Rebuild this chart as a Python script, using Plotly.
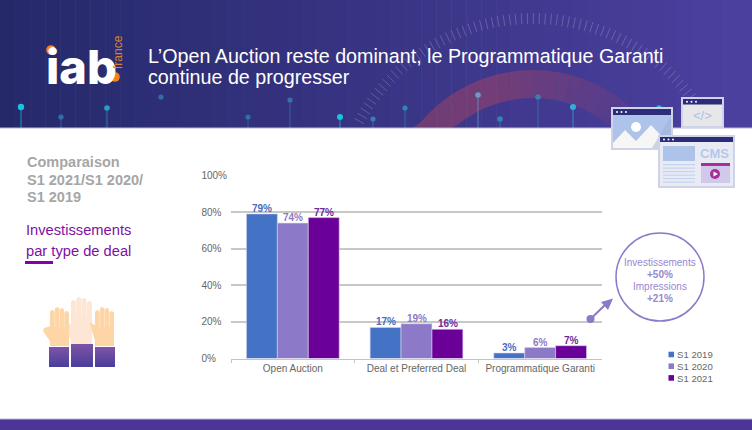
import math
import plotly.graph_objects as go

# chart data
categories = ["Open Auction", "Deal et Preferred Deal", "Programmatique Garanti"]
series_names = ["S1 2019", "S1 2020", "S1 2021"]
s1_2019 = [79, 17, 3]
s1_2020 = [74, 19, 6]
s1_2021 = [77, 16, 7]
y_ticks = [0, 20, 40, 60, 80, 100]
y_labels = ["0%\u00a0\u00a0\u00a0\u00a0", "20%\u00a0\u00a0", "40%\u00a0\u00a0", "60%\u00a0\u00a0", "80%\u00a0\u00a0", "100%"]

bar_colors = ["#4472c4", "#8c7ac8", "#6a0098"]
label_colors = ["#4a6cbe", "#8c7ac8", "#6e2a9c"]
FONT = "Liberation Sans"
W, H = 752, 430

shapes = []
notes = []


# everything decorative is placed in page pixels through the hidden x2/y2 axes
def shape(**kw):
    kw.setdefault("xref", "x2")
    kw.setdefault("yref", "y2")
    shapes.append(kw)


def rect(x0, y0, x1, y1, color, **kw):
    shape(type="rect", x0=x0, y0=y0, x1=x1, y1=y1, fillcolor=color, line_width=0, **kw)


def dot(x, y, r, color, **kw):
    shape(type="circle", x0=x - r, y0=y - r, x1=x + r, y1=y + r, fillcolor=color, line_width=0, **kw)


def line(x0, y0, x1, y1, color, width=1, **kw):
    shape(type="line", x0=x0, y0=y0, x1=x1, y1=y1, line=dict(color=color, width=width), **kw)


def poly(path, color, **kw):
    shape(type="path", path=path, fillcolor=color, line_width=0, **kw)


def text(x, y, s, size, color, bold=False, anchor="left", angle=0, family=FONT, weight=None):
    font = dict(family=family, size=size, color=color)
    if weight:
        font["weight"] = weight
    notes.append(dict(xref="x2", yref="y2", x=x, y=y, text="<b>%s</b>" % s if bold else s,
                      showarrow=False, xanchor=anchor, yanchor="middle", textangle=angle,
                      borderpad=0, font=font))


def mix(a, b, t):
    ca = [int(a[i:i + 2], 16) for i in (1, 3, 5)]
    cb = [int(b[i:i + 2], 16) for i in (1, 3, 5)]
    return "rgb(%d,%d,%d)" % tuple(round(p + (q - p) * t) for p, q in zip(ca, cb))


# header band
n = 50
for i in range(n):
    rect(W * i / n, 0, W * (i + 1) / n + 0.6, 128, mix("#25296a", "#4c409f", i / (n - 1)))

# tick ring
cx, cy = 533, 217
ring = ""
for k in range(120):
    deg = 180 + k * 1.7
    a = math.radians(deg)
    xa, ya = cx + 193 * math.cos(a), cy + 193 * math.sin(a)
    xb, yb = cx + 204 * math.cos(a), cy + 204 * math.sin(a)
    if ya < 127 and yb < 127 and 205 <= deg <= 330:
        ring += "M%.1f,%.1f L%.1f,%.1f " % (xa, ya, xb, yb)
shape(type="path", path=ring, line=dict(color="rgba(255,255,255,0.2)", width=1))

# red arc, fading out to the right
steps = 36
for i in range(steps):
    t0 = math.pi + (i / steps) * math.pi
    t1 = math.pi + ((i + 1) / steps) * math.pi
    pts = []
    for ang, r in [(t0, 147), (t1, 147), (t1, 119), (t0, 119)]:
        px, py = cx + r * math.cos(ang), min(cy + r * math.sin(ang), 128)
        pts.append("%.1f,%.1f" % (px, py))
    if all(float(p.split(",")[1]) >= 128 for p in pts):
        continue
    fade = 1 - max(0, i / steps - 0.4) / 0.45
    poly("M" + " L".join(pts) + " Z", "#d84a50", opacity=max(0.34 * fade, 0.0))

# pins on the header
pins = [(21, 107, "#17c4e0", 3.2), (61, 117, "#2f6ea8", 2.6), (107, 108, "#2b9cc4", 2.8),
        (161, 97, "#2f6ea8", 2.6), (248, 117, "#2f6ea8", 2.6), (290, 100, "#3a6fab", 2.6),
        (340, 117, "#17c4e0", 3), (373, 119, "#3a7db3", 2.6), (405, 108, "#2f86b0", 2.6),
        (478, 95, "#6a9cc8", 2.8), (500, 119, "#2f86b0", 2.8), (538, 97, "#3f7ab0", 2.8),
        (573, 107, "#2fb0d8", 3), (659, 108, "#2fb0d8", 2.8)]
for px, py, col, r in pins:
    if px != 161:
        line(px, py, px, 128, col, 1, opacity=0.7)
    dot(px, py, r, col)

line(0, 128, W, 128, "#b9b9dc", 1.2)

# footer band
rect(0, 419, W, 430, "#4b3596")
line(0, 419, W, 419, "#b9b9dc", 1)

# logo
text(44.5, 66, "iab", 47, "#ffffff", family="Inter", weight=800)
dot(51, 50, 4.8, "#f58220")
dot(115, 77, 4.8, "#f58220")
text(118, 52, "france", 12, "#d9822b", angle=-90, anchor="center")

# title
text(146.5, 55.5, "L’Open Auction reste dominant, le Programmatique Garanti", 19.7, "#ffffff")
text(146.5, 76.5, "continue de progresser", 19.7, "#ffffff")

# left column
for yy, s in zip([162, 179.5, 197], ["Comparaison", "S1 2021/S1 2020/", "S1 2019"]):
    text(25.5, yy, s, 14.5, "#a6a6a6", bold=True)
text(24.5, 230, "Investissements", 14.7, "#7f0fa3")
text(24.5, 251, "par type de deal", 14.7, "#7f0fa3")
rect(25, 261, 53, 264, "#8500a5")


# raised hands
def hand(x0, x1, top, bottom, color, thumb=None):
    fw = (x1 - x0) / 4
    p = "M%.1f,%.1f " % (x0, bottom)
    p += "L%.1f,%.1f " % (x0, top + 6)
    for k in range(4):
        lift = [3, 0, 1, 4][k]
        a, b = x0 + k * fw, x0 + (k + 1) * fw
        p += "L%.1f,%.1f Q%.1f,%.1f %.1f,%.1f L%.1f,%.1f " % (
            a, top + lift + 2, (a + b) / 2, top + lift - 2, b, top + lift + 2, b, top + 24)
        if k < 3:
            p += "L%.1f,%.1f " % (b, top + lift + 4)
    p += "L%.1f,%.1f Z" % (x1, bottom)
    if thumb:
        poly(thumb, color)
    poly(p, color)
    for k in range(1, 4):
        line(x0 + k * fw, top + 3, x0 + k * fw, top + 20, "#ffffff", 0.6, opacity=0.6)


hand(71, 92, 297, 345, "#fde6d4",
     thumb="M71,325 L63,318 L64,328 L72,342 Z")
hand(50, 69, 307, 346, "#fdd5a6",
     thumb="M51,326 L44,328 L43,331 L52,344 Z")
hand(95, 114, 307, 346, "#fdd5a6",
     thumb="M96,326 L90,322 L92,331 L96,344 Z")
for x0, x1, top in [(49, 69, 347), (71, 93, 344), (95, 115, 347)]:
    strips = 8
    for i in range(strips):
        y0 = top + (367 - top) * i / strips
        y1 = min(top + (367 - top) * (i + 1) / strips + 1, 367)
        rect(x0, y0, x1, y1, mix("#7c52a6", "#4c3f9b", i / (strips - 1)))


# browser windows
def window(x0, y0, x1, y1, bar_h, body):
    rect(x0, y0, x1, y1, "#cfd3ea")
    rect(x0 + 2, y0 + 2, x1 - 2, y1 - 2, body)
    rect(x0 + 2, y0 + 2, x1 - 2, y0 + 2 + bar_h, "#2d2c78")
    for k in range(3):
        dot(x0 + 6 + k * 4.5, y0 + 2 + bar_h / 2, 1, "#ffffff")


window(611, 107, 673, 150, 6, "#aec3e9")
dot(636, 127, 5, "#ffffff")
poly("M613,143 L625,130 L636,141 L651,125 L671,146 L671,148 L613,148 Z", "#f6f6f6")
poly("M671,116 L671,148 L652,148 Z", "#9fb0d6", opacity=0.5)

window(681, 97, 724, 128, 5.5, "#e7e7e9")
text(702.5, 115, "</>", 13, "#a9c0ee", anchor="center")

window(658, 135, 735, 188, 5, "#e9ebf4")
rect(663, 146, 695, 161, "#aec3e9")
for ly in [164, 167.5, 171, 174.5, 178, 181.5]:
    rect(663, ly, 695, ly + 1.2, "#c4d3ee")
text(714.5, 153, "CMS", 13, "#b4c8ea", bold=True, anchor="center")
rect(701, 163, 730, 166, "#a62f9c")
rect(701, 166, 730, 183, "#d0c9ea")
dot(715, 174, 5, "#a62f9c")
poly("M713.5,171.5 L718,174 L713.5,176.5 Z", "#ffffff")

# callout
shape(type="circle", x0=616, y0=233, x1=704, y1=321, fillcolor="rgba(255,255,255,0)",
      line=dict(color="#8c7ac8", width=1.5))
for yy, s, b in [(262.5, "Investissements", False), (274.5, "+50%", True),
                 (286.5, "Impressions", False), (298.5, "+21%", True)]:
    text(660, yy, s, 10, "#9788d0", bold=b, anchor="center")
dot(590.5, 319, 4, "#8c7ac8")
line(590.5, 319, 606, 304, "#8c7ac8", 2)
poly("M613,298.5 L601,302 L608,310 Z", "#8c7ac8")

# legend, same order as the series
for i, name in enumerate(series_names):
    yy = 354.5 + i * 11.7
    rect(668.5, yy - 2.8, 674, yy + 2.8, bar_colors[i])
    text(675.5, yy + 0.3, name, 9.6, "#666666")

fig = go.Figure()
all_series = [s1_2019, s1_2020, s1_2021]
for s, (name, vals, col, lab) in enumerate(zip(series_names, all_series, bar_colors, label_colors)):
    fig.add_bar(x=categories, y=vals, name=name, marker_color=col,
                marker_line=dict(color="#d9d4ec", width=0.6), cliponaxis=False)
    # value labels sit closer to the bars than textposition="outside" allows
    for cat, v in zip(categories, vals):
        notes.append(dict(xref="x", yref="y", x=cat, y=v, text="<b>%d%%</b>" % v, showarrow=False,
                          xanchor="center", yanchor="bottom", xshift=(s - 1) * 31, yshift=-1,
                          borderpad=0, font=dict(family=FONT, size=10, color=lab)))
# empty trace so the page-pixel axes exist
fig.add_scatter(x=[], y=[], xaxis="x2", yaxis="y2", showlegend=False)

fig.update_layout(
    width=W, height=H, margin=dict(l=0, r=0, t=0, b=0), autosize=False,
    paper_bgcolor="#ffffff", plot_bgcolor="rgba(0,0,0,0)",
    barmode="group", bargap=0.25, bargroupgap=0, showlegend=False,
    font=dict(family=FONT),
    xaxis=dict(domain=[231 / W, 602 / W], anchor="y", showline=True, linecolor="#c4c4c4", linewidth=1,
               ticks="outside", tickson="boundaries", ticklen=3, tickcolor="#c4c4c4",
               tickfont=dict(size=10, color="#666666"), showgrid=False),
    yaxis=dict(domain=[1 - 358.5 / H, 1 - 175.5 / H], anchor="x", range=[0, 100],
               tickvals=y_ticks, ticktext=y_labels, ticks="", gridcolor="#c8c8c8", gridwidth=1.5,
               ticklabelstandoff=3,
               tickfont=dict(size=10, color="#666666"), zeroline=False, automargin=False),
    xaxis2=dict(domain=[0, 1], range=[0, W], anchor="y2", visible=False, fixedrange=True),
    yaxis2=dict(domain=[0, 1], range=[H, 0], anchor="x2", visible=False, fixedrange=True),
    shapes=shapes, annotations=notes,
)

fig.write_html("out.html", config=dict(displayModeBar=False),
               post_script="document.body.style.margin='0';")
